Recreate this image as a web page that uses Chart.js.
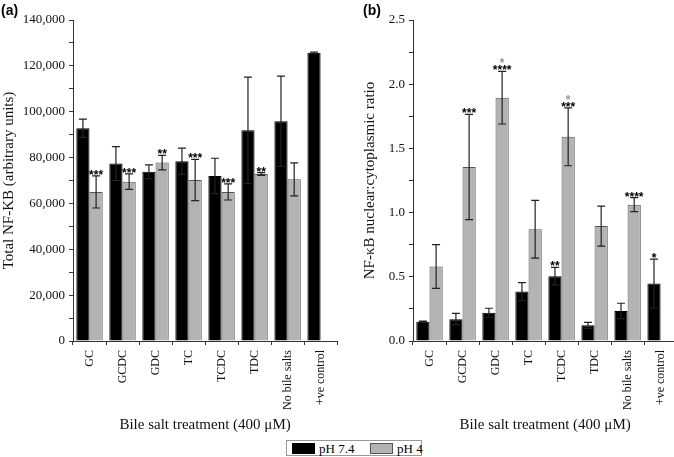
<!DOCTYPE html>
<html>
<head>
<meta charset="utf-8">
<script src="https://cdn.jsdelivr.net/npm/chart.js@4.4.1/dist/chart.umd.min.js"></script>
<style>
html, body { margin: 0; padding: 0; background: #fff; width: 674px; height: 457px; overflow: hidden; position: relative; }
canvas { position: absolute; top: 0; }
#chartA { left: 0; }
#chartB { left: 340px; }
.panel { position: absolute; top: 2px; font: bold 14px "Liberation Sans", Arial, sans-serif; color: #000; }
#legend { position: absolute; left: 286px; top: 440px; width: 136px; height: 16px; border: 1px solid #999; box-sizing: border-box;
          font: 13px "Liberation Serif", "Times New Roman", serif; color: #000; white-space: nowrap; }
#legend span { position: absolute; top: 0px; white-space: nowrap; }
#legend i { position: absolute; top: 2px; height: 11px; width: 23px; box-sizing: border-box; }
</style>
</head>
<body>
<canvas id="chartA" width="340" height="438"></canvas>
<canvas id="chartB" width="340" height="438"></canvas>
<div class="panel" style="left:1px">(a)</div>
<div class="panel" style="left:363px">(b)</div>
<div id="legend">
  <i style="left:5px;background:#000"></i><span style="left:32px">pH 7.4</span>
  <i style="left:83px;background:#b3b3b3;border:1px solid #555"></i><span style="left:110px">pH 4</span>
</div>
<script>
var categories = ['GC', 'GCDC', 'GDC', 'TC', 'TCDC', 'TDC', 'No bile salts', '+ve control'];

// panel (a) total NF-KB
var totalPh74 = [92800, 77400, 73800, 78400, 72000, 91900, 95800, 125700];
var totalPh74Err = [4000, 7400, 3000, 5700, 7700, 23200, 19700, 300];
var totalPh74Stars = ['', '', '', '', '', '', '', ''];
var totalPh4 = [65000, 69500, 77800, 70200, 65000, 72800, 70500, null];
var totalPh4Err = [7000, 3400, 3200, 9000, 3500, 600, 7200, null];
var totalPh4Stars = ['***', '***', '**', '***', '***', '**', '', ''];

// panel (b) nuclear:cytoplasmic ratio
var ratioPh74 = [0.15, 0.17, 0.22, 0.385, 0.505, 0.122, 0.234, 0.447];
var ratioPh74Err = [0.005, 0.045, 0.035, 0.07, 0.068, 0.023, 0.06, 0.19];
var ratioPh74Stars = ['', '', '', '', '**', '', '', '*'];
var ratioPh4 = [0.58, 1.355, 1.895, 0.87, 1.59, 0.895, 1.062, null];
var ratioPh4Err = [0.17, 0.41, 0.205, 0.225, 0.225, 0.156, 0.055, null];
var ratioPh4Stars = ['', '***', '****', '', '***', '', '****', ''];
var ratioPh4GreyStars = ['', '', '*', '', '*', '', '', ''];

var serif = '"Liberation Serif", "Times New Roman", serif';

var errorBars = {
    id: 'errorBars',
    afterDatasetsDraw: function (chart) {
        var ctx = chart.ctx, y = chart.scales.y;
        ctx.save();
        chart.data.datasets.forEach(function (ds, i) {
            var meta = chart.getDatasetMeta(i);
            meta.data.forEach(function (bar, j) {
                var v = ds.data[j], e = ds.errors[j];
                if (v == null) return;
                var top = y.getPixelForValue(v + e), bot = y.getPixelForValue(v - e);
                ctx.strokeStyle = '#222';
                ctx.lineWidth = 1.2;
                ctx.beginPath();
                ctx.moveTo(bar.x, top); ctx.lineTo(bar.x, bot);
                ctx.moveTo(bar.x - 4, top); ctx.lineTo(bar.x + 4, top);
                ctx.moveTo(bar.x - 4, bot); ctx.lineTo(bar.x + 4, bot);
                ctx.stroke();
                ctx.textAlign = 'center';
                ctx.textBaseline = 'alphabetic';
                ctx.font = 'bold 12px "Liberation Sans", Arial, sans-serif';
                if (ds.stars && ds.stars[j]) {
                    ctx.fillStyle = '#000';
                    ctx.fillText(ds.stars[j], bar.x, top + 3);
                }
                if (ds.greyStars && ds.greyStars[j]) {
                    ctx.fillStyle = '#999';
                    ctx.fillText(ds.greyStars[j], bar.x, top - 4);
                }
            });
        });
        ctx.restore();
    }
};

function makeChart(id, d74, e74, s74, d4, e4, s4, g4, yTitle, yMax, step, major, fmt, titlePad) {
    return new Chart(document.getElementById(id), {
        type: 'bar',
        data: {
            labels: categories,
            datasets: [{
                label: 'pH 7.4',
                data: d74, errors: e74, stars: s74,
                backgroundColor: '#000',
                borderColor: '#000',
                borderWidth: 1
            }, {
                label: 'pH 4',
                data: d4, errors: e4, stars: s4, greyStars: g4,
                backgroundColor: '#b3b3b3',
                borderColor: '#555',
                borderWidth: 1
            }]
        },
        options: {
            responsive: false,
            animation: false,
            datasets: { bar: { categoryPercentage: 0.8, barPercentage: 1.0 } },
            layout: { padding: { top: 20, right: 0, bottom: 0, left: 0 } },
            plugins: { legend: { display: false }, tooltip: { enabled: false } },
            scales: {
                x: {
                    afterFit: function (s) { s.height = 97; },
                    grid: { display: true, drawOnChartArea: false, offset: true, tickLength: 4, color: '#333' },
                    border: { display: true, color: '#333', width: 1 },
                    ticks: { maxRotation: 90, minRotation: 90, autoSkip: false, padding: 5, color: '#111',
                             font: { family: serif, size: 12 } },
                    title: { display: true, text: 'Bile salt treatment (400 μM)', color: '#111',
                             font: { family: serif, size: 15 }, padding: { top: 4, bottom: 4 } }
                },
                y: {
                    min: 0, max: yMax,
                    afterFit: function (s) { s.width = 73; },
                    grid: { display: true, drawOnChartArea: false, tickLength: 4, color: '#333' },
                    border: { display: true, color: '#333', width: 1 },
                    ticks: {
                        stepSize: step, autoSkip: false, padding: 4, color: '#111',
                        font: { family: serif, size: 13 },
                        callback: function (v) {
                            var r = v / major;
                            return Math.abs(r - Math.round(r)) < 1e-6 ? fmt(v) : '';
                        }
                    },
                    title: { display: true, text: yTitle, color: '#111',
                             font: { family: serif, size: 15 }, padding: { top: titlePad, bottom: 0 } }
                }
            }
        },
        plugins: [errorBars]
    });
}

makeChart('chartA', totalPh74, totalPh74Err, totalPh74Stars, totalPh4, totalPh4Err, totalPh4Stars, null,
    'Total NF-KB (arbitrary units)', 140000, 10000, 20000,
    function (v) { return v.toLocaleString('en-US'); }, 0);

makeChart('chartB', ratioPh74, ratioPh74Err, ratioPh74Stars, ratioPh4, ratioPh4Err, ratioPh4Stars, ratioPh4GreyStars,
    'NF-κB nuclear:cytoplasmic ratio', 2.5, 0.25, 0.5,
    function (v) { return v.toFixed(1); }, 21);
</script>
</body>
</html>
